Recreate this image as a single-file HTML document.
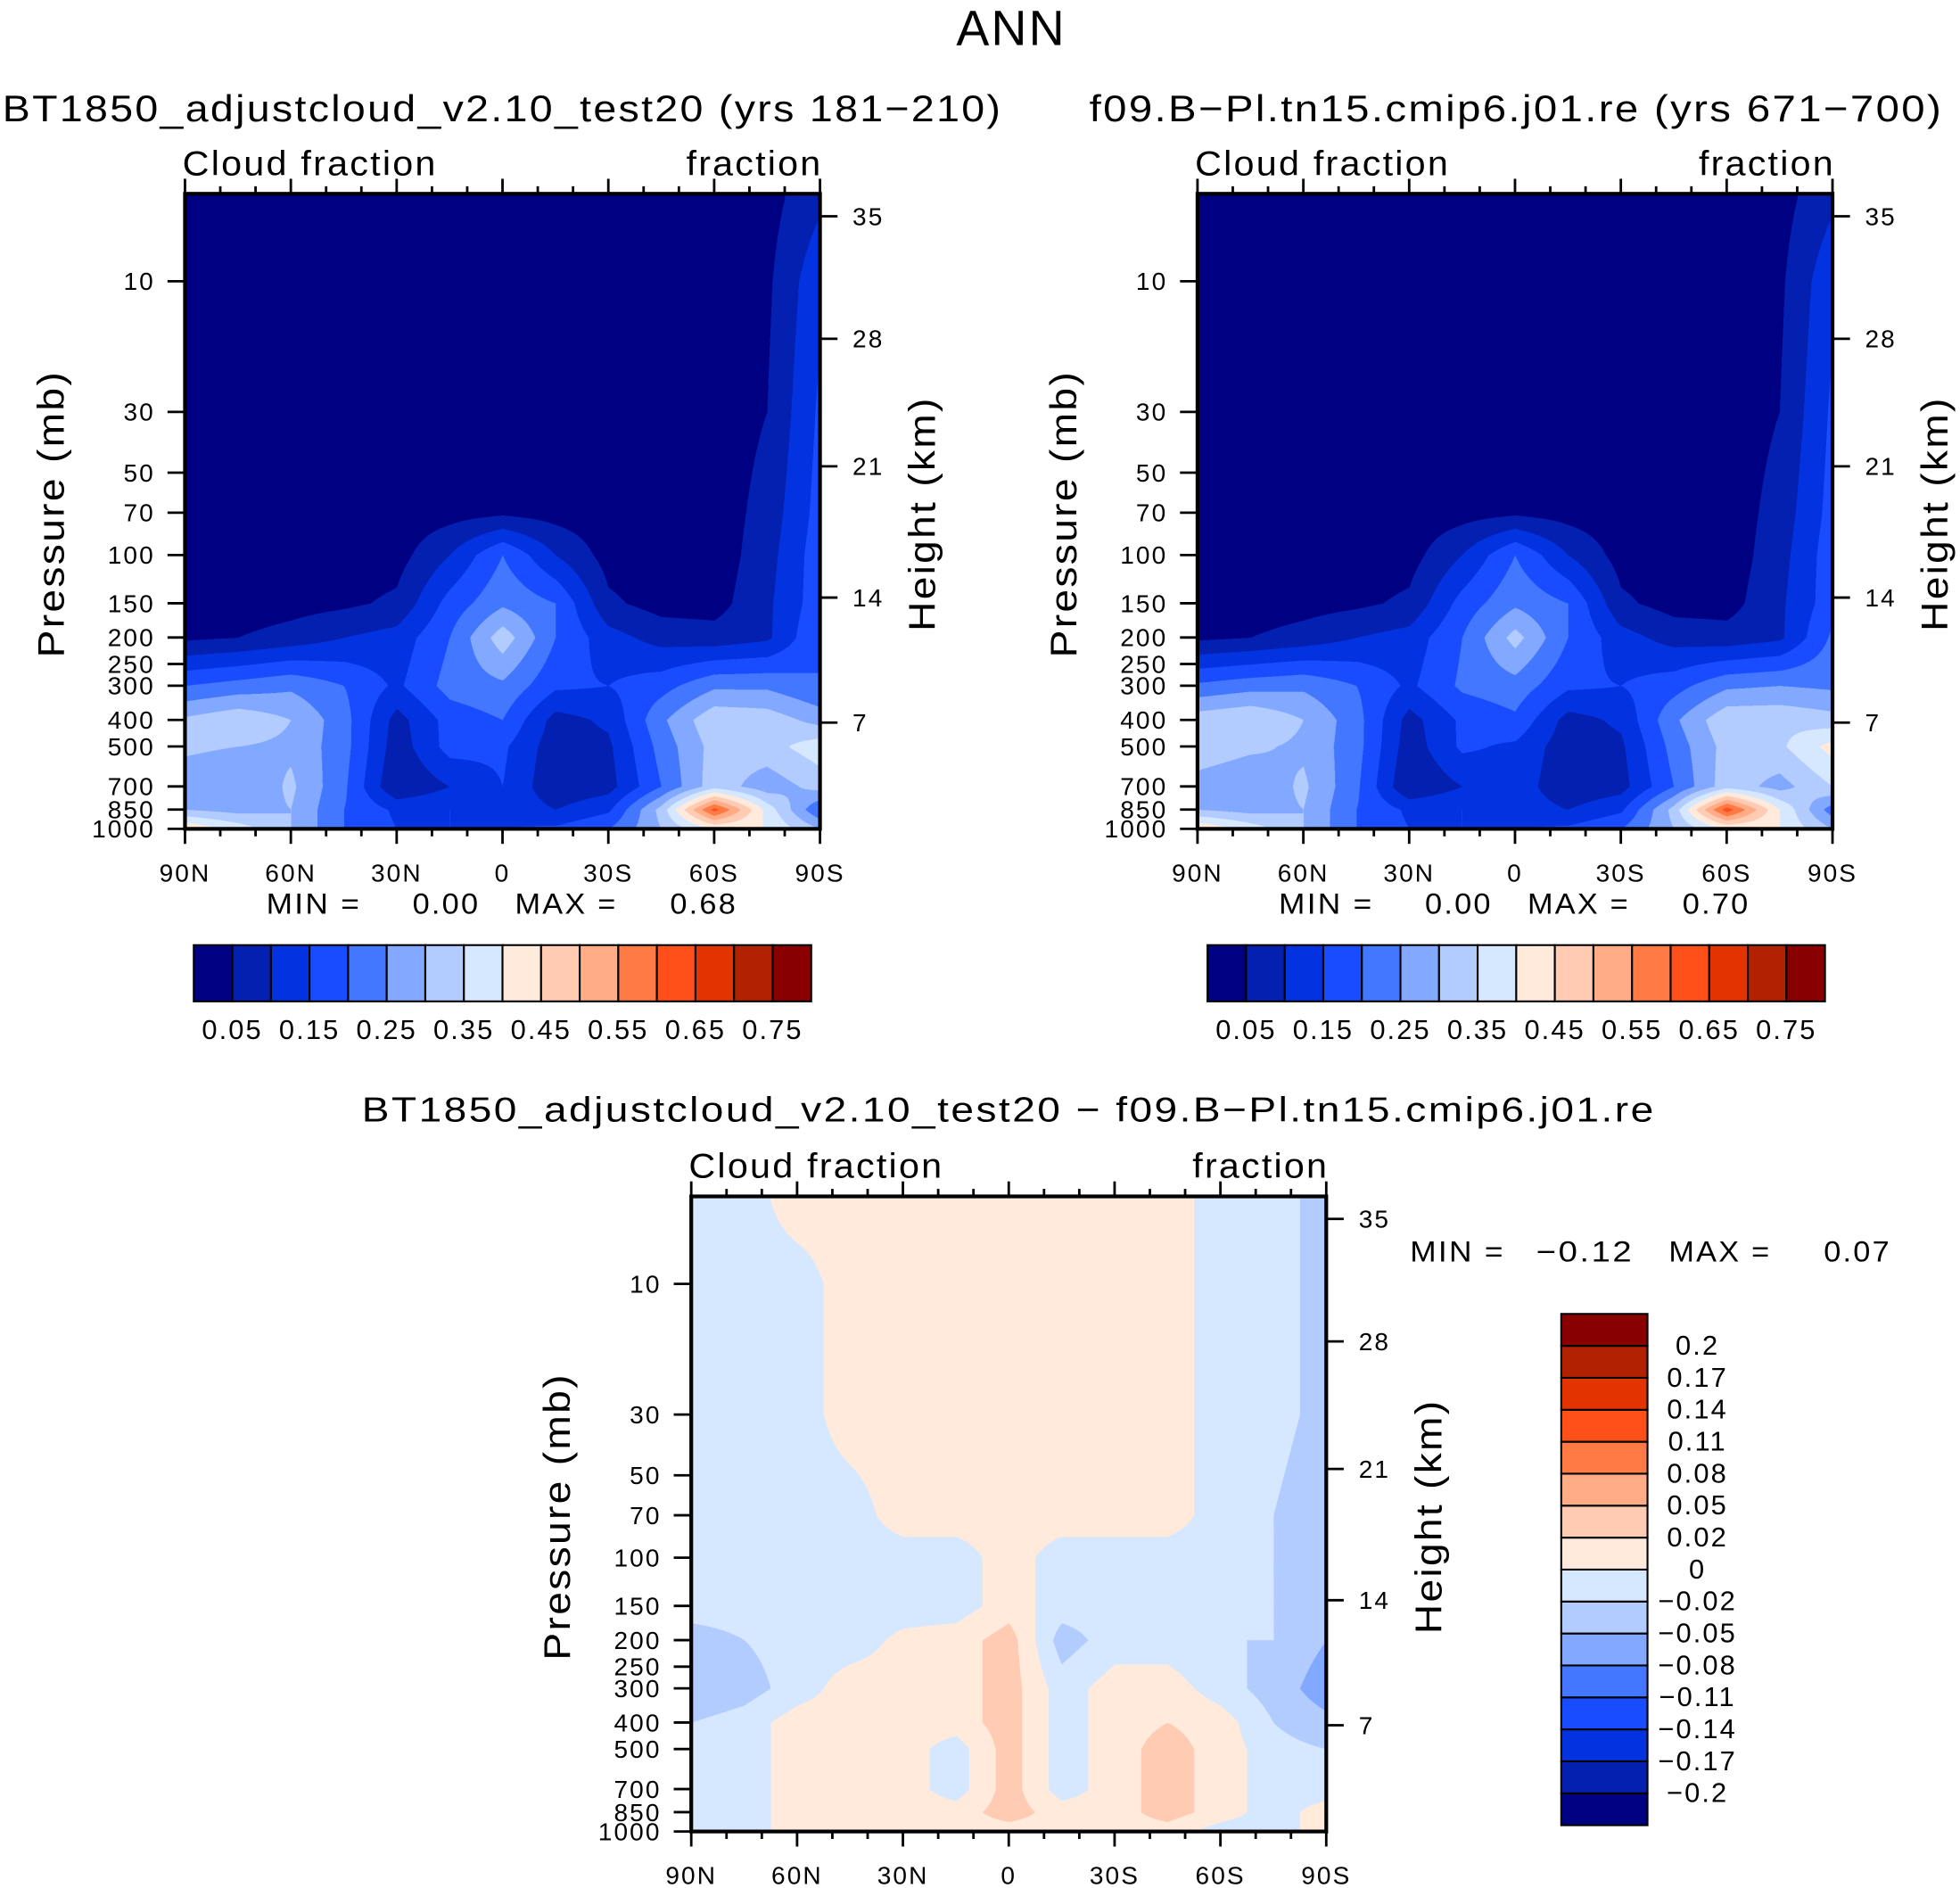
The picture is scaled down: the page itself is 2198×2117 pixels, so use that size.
<!DOCTYPE html>
<html><head><meta charset="utf-8">
<style>
body{margin:0;background:#fff;width:2198px;height:2116px;overflow:hidden}
#wrap{position:absolute;left:0;top:0;width:1568px;height:1510px;transform:scale(1.40179);transform-origin:0 0}
canvas{position:absolute}
svg{position:absolute;left:0;top:0}
text{font-family:"Liberation Sans",sans-serif;fill:#000;letter-spacing:1.5px}
</style></head>
<body>
<div id="wrap">
<canvas id="c1"></canvas>
<canvas id="c2"></canvas>
<canvas id="c3"></canvas>
<svg id="s" width="1568" height="1510"></svg>
</div>
<script>
// ---- data ----
const lats = [90,75,60,45,30,15,0,-15,-30,-45,-60,-75,-90];
const levels = [5,10,30,70,100,150,200,300,400,500,700,850,1000];
const field1 = [
[0.02,0.02,0.02,0.02,0.02,0.02,0.02,0.02,0.02,0.02,0.02,0.03,0.09],
[0.02,0.02,0.02,0.02,0.02,0.02,0.02,0.02,0.02,0.02,0.02,0.04,0.14],
[0.02,0.02,0.02,0.02,0.02,0.02,0.02,0.02,0.02,0.02,0.02,0.05,0.16],
[0.02,0.02,0.02,0.02,0.02,0.03,0.04,0.03,0.02,0.02,0.02,0.07,0.17],
[0.02,0.02,0.02,0.02,0.03,0.1,0.2,0.1,0.03,0.02,0.02,0.08,0.18],
[0.02,0.02,0.03,0.04,0.06,0.17,0.24,0.2,0.06,0.03,0.03,0.09,0.18],
[0.04,0.05,0.07,0.1,0.12,0.2,0.33,0.2,0.12,0.08,0.07,0.09,0.2],
[0.2,0.22,0.24,0.2,0.14,0.22,0.24,0.16,0.15,0.18,0.24,0.24,0.2],
[0.31,0.34,0.3,0.22,0.08,0.17,0.2,0.08,0.11,0.24,0.34,0.33,0.28],
[0.31,0.3,0.29,0.22,0.07,0.17,0.16,0.07,0.09,0.22,0.32,0.33,0.38],
[0.27,0.25,0.31,0.21,0.05,0.1,0.15,0.06,0.08,0.2,0.33,0.27,0.32],
[0.3,0.28,0.3,0.2,0.14,0.15,0.14,0.1,0.14,0.32,0.62,0.38,0.2],
[0.45,0.38,0.3,0.2,0.15,0.15,0.15,0.16,0.2,0.3,0.4,0.4,0.3]];
const field2 = [
[0.02,0.02,0.02,0.02,0.02,0.02,0.02,0.02,0.02,0.02,0.02,0.03,0.09],
[0.02,0.02,0.02,0.02,0.02,0.02,0.02,0.02,0.02,0.02,0.02,0.04,0.14],
[0.02,0.02,0.02,0.02,0.02,0.02,0.02,0.02,0.02,0.02,0.02,0.05,0.16],
[0.02,0.02,0.02,0.02,0.02,0.03,0.04,0.03,0.02,0.02,0.02,0.07,0.17],
[0.02,0.02,0.02,0.02,0.03,0.1,0.2,0.1,0.03,0.02,0.02,0.08,0.18],
[0.02,0.02,0.03,0.04,0.06,0.17,0.24,0.2,0.06,0.03,0.03,0.09,0.18],
[0.04,0.05,0.07,0.1,0.12,0.2,0.32,0.2,0.12,0.08,0.07,0.09,0.21],
[0.21,0.23,0.24,0.2,0.14,0.21,0.23,0.16,0.15,0.18,0.24,0.25,0.24],
[0.33,0.35,0.3,0.22,0.08,0.16,0.19,0.08,0.11,0.24,0.34,0.34,0.32],
[0.33,0.31,0.29,0.22,0.07,0.16,0.14,0.07,0.09,0.22,0.32,0.34,0.42],
[0.28,0.26,0.31,0.21,0.05,0.1,0.13,0.06,0.08,0.2,0.33,0.28,0.35],
[0.3,0.28,0.3,0.2,0.14,0.15,0.13,0.1,0.14,0.32,0.63,0.4,0.22],
[0.45,0.38,0.3,0.2,0.15,0.15,0.15,0.16,0.2,0.3,0.4,0.4,0.3]];
const fieldDiff = [
[-0.01,-0.01,0.01,0.01,0.01,0.01,0.01,0.01,0.01,0.01,-0.01,-0.01,-0.03],
[-0.01,-0.01,-0.01,0.01,0.01,0.01,0.01,0.01,0.01,0.01,-0.01,-0.01,-0.03],
[-0.01,-0.01,-0.01,0.01,0.01,0.01,0.01,0.01,0.01,0.01,-0.01,-0.01,-0.03],
[-0.01,-0.01,-0.01,-0.01,0.01,0.01,0.01,0.01,0.01,0.01,-0.01,-0.02,-0.04],
[-0.01,-0.01,-0.01,-0.01,-0.01,-0.01,0.01,-0.01,-0.01,-0.01,-0.01,-0.02,-0.04],
[-0.01,-0.01,-0.01,-0.01,-0.01,-0.01,0.01,-0.01,-0.01,-0.01,-0.01,-0.02,-0.04],
[-0.03,-0.02,-0.01,-0.01,0.005,0.01,0.03,-0.03,-0.01,-0.01,-0.02,-0.02,-0.05],
[-0.04,-0.03,-0.01,0.01,0.01,0.01,0.03,-0.01,0.01,0.01,-0.01,-0.03,-0.07],
[-0.02,-0.01,0.01,0.01,0.01,0.01,0.03,-0.01,0.01,0.02,0.01,-0.02,-0.04],
[-0.01,-0.01,0.01,0.01,0.01,-0.01,0.03,-0.01,0.01,0.03,0.01,-0.01,-0.02],
[-0.01,-0.01,0.01,0.01,0.01,-0.01,0.03,-0.01,0.01,0.03,0.01,-0.01,-0.01],
[-0.01,-0.01,0.01,0.01,0.01,0.01,0.03,0.01,0.01,0.03,0.01,-0.01,0.01],
[-0.01,-0.01,0.01,0.01,0.01,0.01,0.01,0.01,0.01,0.01,-0.01,-0.01,0.01]];
const cloudBounds = [0.05,0.1,0.15,0.2,0.25,0.3,0.35,0.4,0.45,0.5,0.55,0.6,0.65,0.7,0.75];
const cloudLabels = ["0.05","0.15","0.25","0.35","0.45","0.55","0.65","0.75"];
const diffBounds = [-0.2,-0.17,-0.14,-0.11,-0.08,-0.05,-0.02,0,0.02,0.05,0.08,0.11,0.14,0.17,0.2];
const diffLabels = ["-0.2","-0.17","-0.14","-0.11","-0.08","-0.05","-0.02","0","0.02","0.05","0.08","0.11","0.14","0.17","0.2"];
const colors = ["#000083","#0320b0","#0333e0","#1a4cff","#4377ff","#82a9ff","#b3ccff","#d6e8ff","#ffeadb","#ffcbb2","#ffac87","#ff7a45","#ff501a","#e33300","#b32200","#890000"];
const pTicks = [10,30,50,70,100,150,200,250,300,400,500,700,850,1000];
const hTicks = [35,28,21,14,7];
const hPos = [173,271,373,478,578];
const latTicks = ["90N","60N","30N","0","30S","60S","90S"];

// ---- axes functions ----
const W=508,H=508;
function xLat(lat,x0){return x0+(90-lat)/180*W;}
function yP(p,y0){return y0+70+(Math.log10(p)-1)*219;}
function pOfY(y){return Math.pow(10,1+(y-70)/219);}
function sample(f,lat,p){
  let fi=(90-lat)/15; fi=Math.max(0,Math.min(12,fi));
  let i0=Math.min(11,Math.floor(fi)),tx=fi-i0;
  let lp=Math.log10(Math.max(5,Math.min(1000,p))),j0=0;
  for(let j=0;j<12;j++){if(Math.log10(levels[j+1])>=lp){j0=j;break;}}
  let ty=(lp-Math.log10(levels[j0]))/(Math.log10(levels[j0+1])-Math.log10(levels[j0]));
  const v=(a,b)=>f[b][a];
  return (1-ty)*((1-tx)*v(i0,j0)+tx*v(i0+1,j0))+ty*((1-tx)*v(i0,j0+1)+tx*v(i0+1,j0+1));
}
function idx(v,b){let k=0;while(k<b.length&&v>=b[k])k++;return k;}
function drawField(id,f,b,x0,y0){
  const c=document.getElementById(id),S=3;
  c.style.left=x0+'px';c.style.top=y0+'px';c.style.width=W+'px';c.style.height=H+'px';
  c.width=W*S;c.height=H*S;const g=c.getContext('2d');
  const img=g.createImageData(W*S,H*S);
  const rgb=colors.map(h=>[parseInt(h.substr(1,2),16),parseInt(h.substr(3,2),16),parseInt(h.substr(5,2),16)]);
  for(let py=0;py<H*S;py++){const p=pOfY(py/S);
    for(let px=0;px<W*S;px++){const lat=90-px/S/W*180;
      const col=rgb[idx(sample(f,lat,p),b)];const o=(py*W*S+px)*4;
      img.data[o]=col[0];img.data[o+1]=col[1];img.data[o+2]=col[2];img.data[o+3]=255;}}
  g.putImageData(img,0,0);
}
const NS='http://www.w3.org/2000/svg',svg=document.getElementById('s');
function el(t,a,txt){const e=document.createElementNS(NS,t);for(const k in a)e.setAttribute(k,a[k]);if(txt!==undefined)e.textContent=txt;svg.appendChild(e);return e;}
function txt(x,y,s,size,anchor,name,extra){const e=el('text',Object.assign({x:x,y:y,'font-size':size,'text-anchor':anchor||'middle'},extra||{}),s);
  
  return e;}
function fit(len){return {textLength:len,lengthAdjust:'spacingAndGlyphs'};}
function axes(x0,y0,prefix){
  const ln=(a,b,c,d,w)=>{const e=el('line',{x1:a,y1:b,x2:c,y2:d,stroke:'#000','stroke-width':w||2});
    
    };
  const fr=el('rect',{x:x0,y:y0,width:W,height:H,fill:'none',stroke:'#000','stroke-width':3});
  
  
  pTicks.forEach(p=>{const y=yP(p,y0);ln(x0-14,y,x0,y);txt(x0-24,y+7,String(p),20,'end',prefix+'-pressure-label');});
  hTicks.forEach((h,i)=>{const y=y0+(hPos[i]-155);ln(x0+W,y,x0+W+14,y);txt(x0+W+26,y+7,String(h),20,'start',prefix+'-height-label');});
  for(let lat=90;lat>=-90;lat-=10){const x=xLat(lat,x0);const maj=lat%30===0;
    ln(x,y0+H,x,y0+H+(maj?12:6));ln(x,y0,x,y0-(maj?12:6));}
  latTicks.forEach((l,i)=>txt(x0+i*W/6,y0+H+42,l,20,'middle',prefix+'-lat-label'));
  txt(x0-2,y0-15,'Cloud  fraction',28,'start',prefix+'-cloud-fraction-left',fit(204));
  txt(x0+W+2,y0-15,'fraction',28,'end',prefix+'-fraction-right',fit(109));
  txt(0,0,'Pressure  (mb)',30,'middle',prefix+'-y-axis-title',Object.assign({transform:`translate(${x0-97},${y0+256}) rotate(-90)`},fit(230)));
  txt(0,0,'Height  (km)',30,'middle',prefix+'-y2-axis-title',Object.assign({transform:`translate(${x0+W+92},${y0+256}) rotate(-90)`},fit(188)));
}
function hbar(x0,y0,prefix){
  const bw=494/16;
  colors.forEach((c,i)=>{const r=el('rect',{x:x0+i*bw,y:y0,width:bw,height:45,fill:c,stroke:'#000','stroke-width':1.5});
    
    });
  cloudLabels.forEach((l,i)=>txt(x0+bw*(1+2*i),y0+75,l,22,'middle',prefix+'-colorbar-label'));
}
drawField('c1',field1,cloudBounds,148,155);
drawField('c2',field2,cloudBounds,958,155);
drawField('c3',fieldDiff,diffBounds,553,957);
txt(809,36,'ANN',40,'middle','main-title',fit(88));
txt(402,97,'BT1850_adjustcloud_v2.10_test20 (yrs 181\u2212210)',30,'middle','panel1-title',fit(800));
txt(1213,97,'f09.B\u2212Pl.tn15.cmip6.j01.re (yrs 671\u2212700)',30,'middle','panel2-title',fit(683));
txt(807,897,'BT1850_adjustcloud_v2.10_test20 \u2212 f09.B\u2212Pl.tn15.cmip6.j01.re',28,'middle','diff-title',fit(1035));
axes(148,155,'panel1');axes(958,155,'panel2');axes(553,957,'diff');
txt(213,731,'MIN  =',23,'start','panel1-min',fit(76));txt(384,731,'0.00',23,'end','panel1-min-value',fit(54));
txt(412,731,'MAX  =',23,'start','panel1-max',fit(82));txt(590,731,'0.68',23,'end','panel1-max-value',fit(54));
txt(1023,731,'MIN  =',23,'start','panel2-min',fit(76));txt(1194,731,'0.00',23,'end','panel2-min-value',fit(54));
txt(1222,731,'MAX  =',23,'start','panel2-max',fit(82));txt(1400,731,'0.70',23,'end','panel2-max-value',fit(54));
txt(1128,1009,'MIN  =',23,'start','diff-min',fit(76));txt(1307,1009,'\u22120.12',23,'end','diff-min-value',fit(78));
txt(1335,1009,'MAX  =',23,'start','diff-max',fit(82));txt(1513,1009,'0.07',23,'end','diff-max-value',fit(54));
hbar(155,756,'panel1');hbar(966,756,'panel2');
const bh=409/16;
colors.forEach((c,i)=>{const r=el('rect',{x:1249,y:1051+(15-i)*bh,width:69,height:bh,fill:c,stroke:'#000','stroke-width':1.5});
  
  });
diffLabels.forEach((l,i)=>txt(1358,1051+(15-i)*bh+7,l.replace('-','\u2212'),22,'middle','diff-colorbar-label'));
</script>
</body></html>
